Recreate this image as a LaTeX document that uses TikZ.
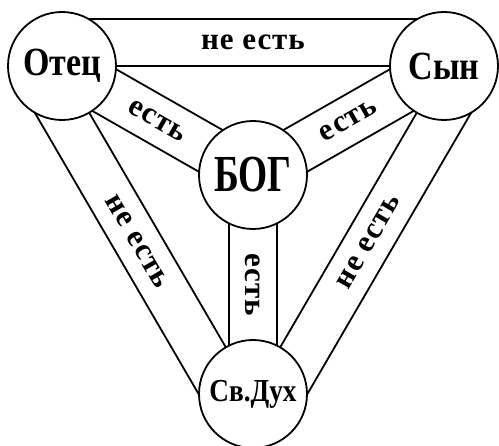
\documentclass[tikz,border=0pt]{standalone}
\usepackage{fontspec}
\newfontfamily\slavfont[FakeStretch=0.85]{Liberation Serif}
\newfontfamily\bogfont[FakeStretch=0.72]{Liberation Serif}
\newfontfamily\bandfont[LetterSpace=3]{Liberation Serif}
\usetikzlibrary{calc,backgrounds}
\tikzset{
  persona/.style={circle, draw, fill=white, line width=1.8pt, minimum size=108pt,
    inner sep=0pt, font=\slavfont\bfseries\fontsize{40}{40}\selectfont},
  banda/.style={line width=1.8pt},
  rotulo/.style={font=\bandfont\bfseries\fontsize{31}{31}\selectfont, inner sep=0pt, sloped},
}
\begin{document}
\begin{tikzpicture}[x=1pt,y=-1pt]
  \useasboundingbox (0,0) rectangle (499,446);

  % Circulos de las personas
  \node[persona] (otec) at (62,66) {Отец};
  \node[persona] (syn) at (444,66) {Сын};
  \node[persona, font=\slavfont\bfseries\fontsize{32}{32}\selectfont] (dukh) at (253,394) {Св.Дух};
  % Circulo central
  \node[persona, font=\bogfont\bfseries\fontsize{52}{52}\selectfont] (bog) at (253,175) {БОГ};

  \begin{scope}[on background layer]
    % Bandas exteriores (lado de fuera desplazado)
    \foreach \a/\b in {otec/syn, syn/dukh, dukh/otec} {
      \draw[banda] (\a.center) -- (\b.center);
      \draw[banda] ($(\a.center)!47pt!90:(\b.center)$) -- ($(\b.center)!47pt!-90:(\a.center)$);
    }
    % Bandas interiores hacia el centro
    \foreach \a in {otec, syn, dukh} {
      \draw[banda] ($(bog.center)!24pt!90:(\a.center)$) -- ($(\a.center)!24pt!-90:(bog.center)$);
      \draw[banda] ($(bog.center)!24pt!-90:(\a.center)$) -- ($(\a.center)!24pt!90:(bog.center)$);
    }
  \end{scope}

  % Rotulos de las bandas
  \foreach \a/\b in {otec/syn, syn/dukh, dukh/otec}
    \path ($(\a.center)!23.5pt!90:(\b.center)$) -- ($(\b.center)!23.5pt!-90:(\a.center)$)
      node[midway, rotulo] (ne-\a) {не есть};
  \foreach \a in {otec, syn, dukh}
    \path (bog.center) -- (\a.center) node[midway, rotulo] (est-\a) {есть};
\end{tikzpicture}
\end{document}
